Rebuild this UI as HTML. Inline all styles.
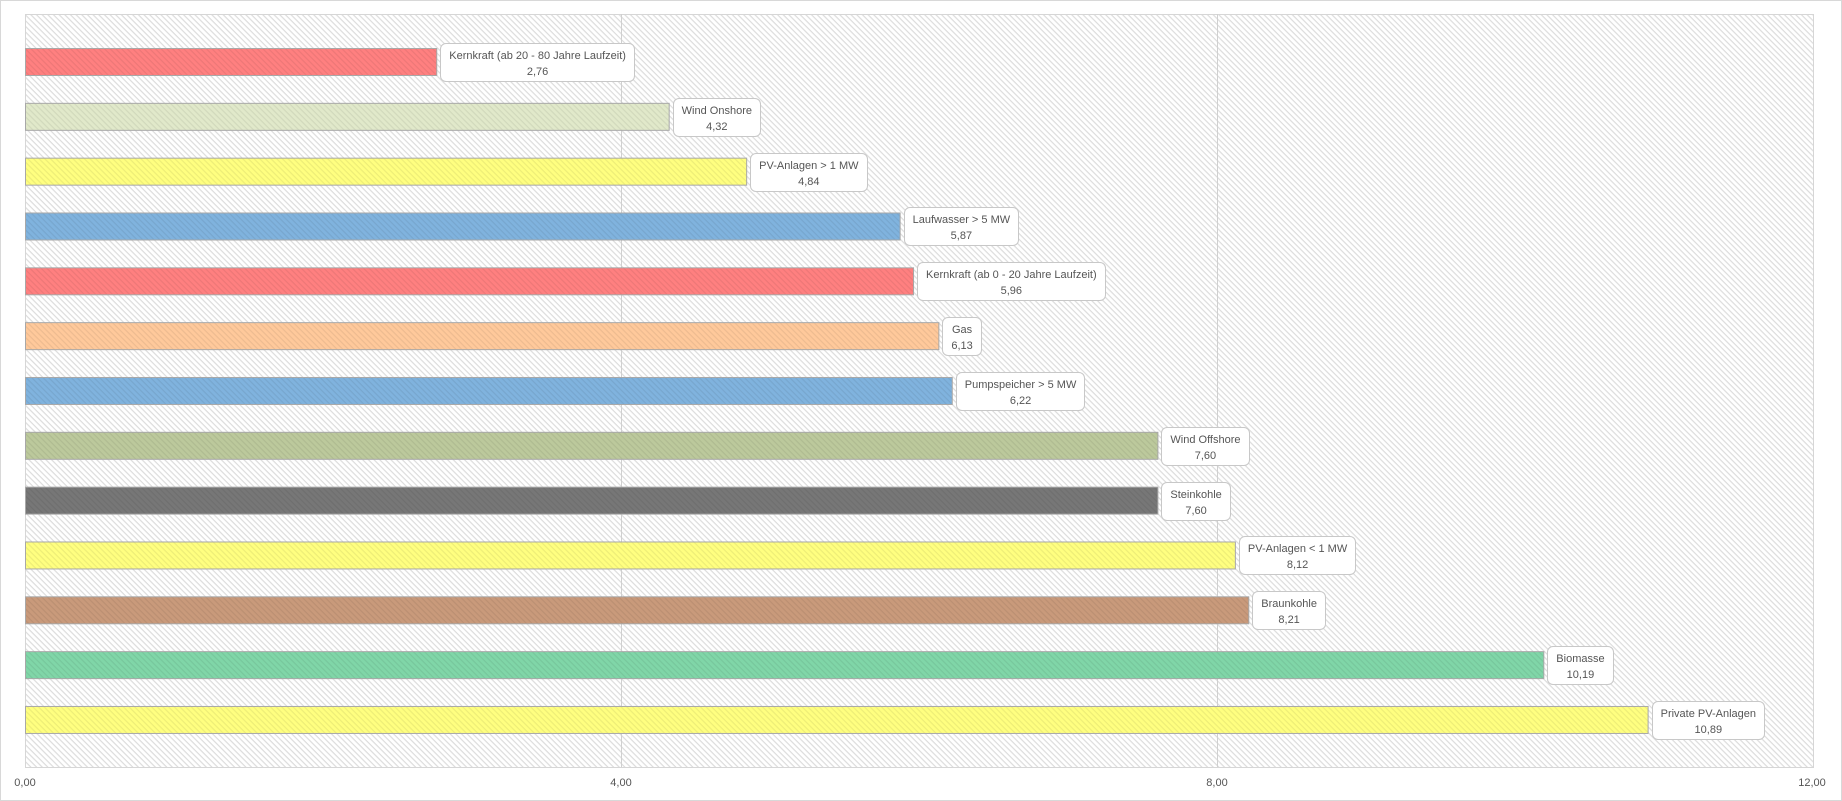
<!DOCTYPE html>
<html><head><meta charset="utf-8"><style>
body{margin:0;width:1842px;height:801px;overflow:hidden;background:#fff;font-family:"Liberation Sans",sans-serif;}
.lbl{position:absolute;background:#fff;border:1px solid #c8c8c8;border-radius:6px;box-sizing:border-box;height:39px;padding:4px 8px 0;font-size:11px;line-height:16px;color:#555;text-align:center;white-space:nowrap;}
.tk{position:absolute;top:777px;font-size:11px;color:#555;transform:translateX(-50%);}
</style></head><body>
<svg width="1842" height="801" style="position:absolute;left:0;top:0">
<defs>
<pattern id="h" width="4" height="4" patternUnits="userSpaceOnUse" patternTransform="rotate(45)">
<rect width="4" height="4" fill="#fff"/><rect width="4" height="1.2" fill="#dcdcdc"/></pattern>
<pattern id="b" width="4" height="4" patternUnits="userSpaceOnUse" patternTransform="rotate(45)">
<rect width="4" height="1.2" fill="rgba(0,0,0,0.07)"/></pattern>
</defs>
<rect x="0.5" y="0.5" width="1841" height="800" fill="#fff" stroke="#d8d8d8"/>
<rect x="25.5" y="14.5" width="1788" height="753" fill="url(#h)" stroke="#d6d6d6"/>
<line x1="621.5" y1="14" x2="621.5" y2="767" stroke="#d0d0d0"/>
<line x1="1217.5" y1="14" x2="1217.5" y2="767" stroke="#d0d0d0"/>
<g id="bars" stroke="#a8a8a8"></g>
</svg>
<div id="labels"></div>
<div class="tk" style="left:25px">0,00</div>
<div class="tk" style="left:621px">4,00</div>
<div class="tk" style="left:1217px">8,00</div>
<div class="tk" style="left:1812px">12,00</div>
<script>
var d=[["Kernkraft  (ab  20 -  80 Jahre  Laufzeit)",2.76,"#ff8080"],["Wind Onshore",4.32,"#e1e9ca"],["PV-Anlagen > 1 MW",4.84,"#ffff80"],["Laufwasser  > 5 MW",5.87,"#80b3de"],["Kernkraft  (ab  0 - 20 Jahre  Laufzeit)",5.96,"#ff8080"],["Gas",6.13,"#ffc99b"],["Pumpspeicher  > 5 MW",6.22,"#80b3de"],["Wind Offshore",7.60,"#bcc99c"],["Steinkohle",7.60,"#777777"],["PV-Anlagen < 1 MW",8.12,"#ffff80"],["Braunkohle",8.21,"#c99a7b"],["Biomasse",10.19,"#80d6a8"],["Private PV-Anlagen",10.89,"#ffff80"]];
var g=document.getElementById("bars"),L=document.getElementById("labels"),s="";
d.forEach(function(r,i){var y=48+i*54.83,w=r[1]*149;
s+='<rect x="25.5" y="'+(y+0.5)+'" width="'+w+'" height="27" fill="'+r[2]+'"/><rect x="26" y="'+(y+1)+'" width="'+(w-1)+'" height="26" fill="url(#b)" stroke="none"/>';
var e=document.createElement("div");e.className="lbl";e.style.left=(25+w+4)+"px";e.style.top=(y-5)+"px";
e.innerHTML=r[0]+"<br>"+r[1].toFixed(2).replace(".",",");L.appendChild(e);});
g.innerHTML=s;
</script>
</body></html>
